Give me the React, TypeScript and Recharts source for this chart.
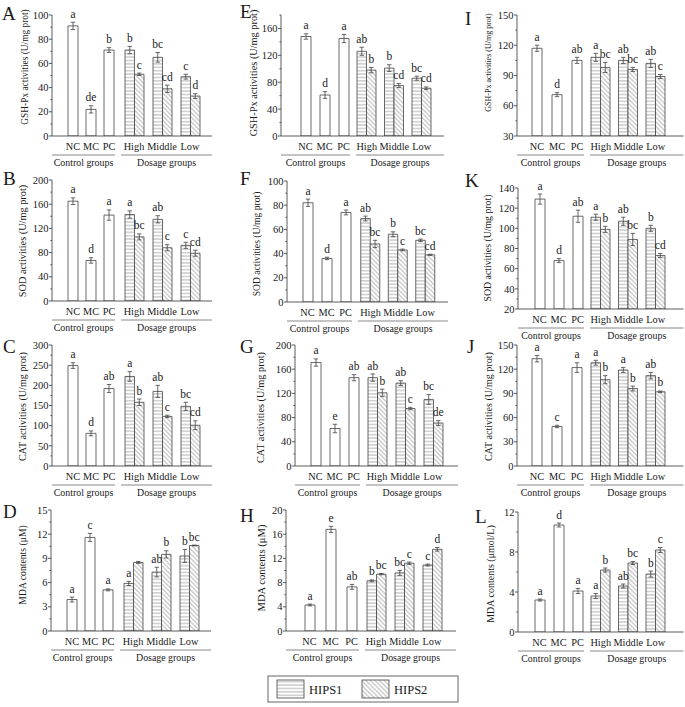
import { BarChart, Bar, XAxis, YAxis, ErrorBar, LabelList } from "recharts";

const FONT = '"Liberation Serif", "Times New Roman", Times, serif';
const INK = "#1a1a1a";
const LINE = "#333";

const controlGroups = ["NC", "MC", "PC"];
const dosageGroups = ["High", "Middle", "Low"];

// A - GSH-Px
const aCtrl = [91, 22, 71], aCtrlErr = [3, 3, 2], aCtrlSig = ["a", "de", "b"];
const aHips1 = [71, 65, 49], aHips1Err = [3, 4, 2], aHips1Sig = ["b", "bc", "c"];
const aHips2 = [51, 39, 33], aHips2Err = [1, 3, 2], aHips2Sig = ["c", "cd", "d"];
const aTicks = [0, 20, 40, 60, 80, 100];
// B - SOD
const bCtrl = [165, 67, 142], bCtrlErr = [5.5, 4.5, 8.5], bCtrlSig = ["a", "d", "a"];
const bHips1 = [143, 135, 92], bHips1Err = [6, 6, 5], bHips1Sig = ["a", "ab", "c"];
const bHips2 = [106, 88, 79], bHips2Err = [5, 5, 5], bHips2Sig = ["bc", "c", "cd"];
const bTicks = [0, 40, 80, 120, 160, 200];
// C - CAT
const cCtrl = [249, 81, 192], cCtrlErr = [7, 6, 10], cCtrlSig = ["a", "d", "ab"];
const cHips1 = [222, 185, 148], cHips1Err = [12, 15, 10], cHips1Sig = ["a", "ab", "bc"];
const cHips2 = [158, 123, 101], cHips2Err = [8, 3, 11], cHips2Sig = ["b", "c", "cd"];
const cTicks = [0, 50, 100, 150, 200, 250, 300];
// D - MDA
const dCtrl = [3.9, 11.6, 5.1], dCtrlErr = [0.3, 0.5, 0.12], dCtrlSig = ["a", "c", "a"];
const dHips1 = [5.9, 7.3, 9.3], dHips1Err = [0.25, 0.6, 0.8], dHips1Sig = ["a", "ab", "b"];
const dHips2 = [8.5, 9.5, 10.6], dHips2Err = [0.12, 0.45, 0.05], dHips2Sig = ["", "b", "bc"];
const dTicks = [0, 3, 6, 9, 12, 15];
// E - GSH-Px
const eCtrl = [148, 61, 145], eCtrlErr = [4, 5, 6], eCtrlSig = ["a", "d", "a"];
const eHips1 = [126, 101, 86], eHips1Err = [6, 5, 3], eHips1Sig = ["ab", "b", "bc"];
const eHips2 = [98, 75, 71], eHips2Err = [4, 3, 2], eHips2Sig = ["b", "cd", "cd"];
const eTicks = [0, 40, 80, 120, 160];
// F - SOD
const fCtrl = [82, 36, 74], fCtrlErr = [3, 1, 2], fCtrlSig = ["a", "d", "a"];
const fHips1 = [69, 56, 51], fHips1Err = [2, 2, 1], fHips1Sig = ["ab", "b", "bc"];
const fHips2 = [48, 43, 39], fHips2Err = [3, 0.7, 0.5], fHips2Sig = ["bc", "c", "cd"];
const fTicks = [0, 20, 40, 60, 80, 100];
// G - CAT
const gCtrl = [171, 62, 146], gCtrlErr = [6, 7, 5], gCtrlSig = ["a", "e", "ab"];
const gHips1 = [146, 137, 110], gHips1Err = [6, 4, 8], gHips1Sig = ["ab", "ab", "bc"];
const gHips2 = [121, 95, 71], gHips2Err = [6, 2, 4], gHips2Sig = ["b", "c", "de"];
const gTicks = [0, 40, 80, 120, 160, 200];
// H - MDA
const hCtrl = [4.3, 16.8, 7.3], hCtrlErr = [0.15, 0.5, 0.4], hCtrlSig = ["a", "e", "ab"];
const hHips1 = [8.3, 9.6, 10.9], hHips1Err = [0.15, 0.4, 0.15], hHips1Sig = ["b", "bc", "c"];
const hHips2 = [9.4, 11.2, 13.5], hHips2Err = [0.1, 0.2, 0.3], hHips2Sig = ["bc", "c", "d"];
const hTicks = [0, 4, 8, 12, 16, 20];
// I - GSH-Px
const iCtrl = [117, 71, 105], iCtrlErr = [3, 2, 3], iCtrlSig = ["a", "d", "ab"];
const iHips1 = [108, 105, 102], iHips1Err = [4, 3, 4], iHips1Sig = ["a", "ab", "ab"];
const iHips2 = [98, 96, 89], iHips2Err = [5, 2, 2], iHips2Sig = ["bc", "bc", "c"];
const iTicks = [30, 60, 90, 120, 150];
// J - CAT
const jCtrl = [133, 49, 122], jCtrlErr = [4, 1.5, 6], jCtrlSig = ["a", "c", "a"];
const jHips1 = [128, 119, 112], jHips1Err = [3, 3, 4], jHips1Sig = ["a", "a", "ab"];
const jHips2 = [107, 96, 92], jHips2Err = [5, 3, 1], jHips2Sig = ["b", "b", "b"];
const jTicks = [0, 30, 60, 90, 120, 150];
// K - SOD
const kCtrl = [129, 68, 112], kCtrlErr = [5, 2, 6], kCtrlSig = ["a", "d", "ab"];
const kHips1 = [111, 107, 100], kHips1Err = [3, 4, 3], kHips1Sig = ["a", "ab", "b"];
const kHips2 = [99, 89, 73], kHips2Err = [3, 6, 2], kHips2Sig = ["b", "bc", "cd"];
const kTicks = [20, 40, 60, 80, 100, 120, 140];
// L - MDA
const lCtrl = [3.2, 10.7, 4.1], lCtrlErr = [0.1, 0.2, 0.25], lCtrlSig = ["a", "d", "a"];
const lHips1 = [3.6, 4.6, 5.8], lHips1Err = [0.25, 0.2, 0.3], lHips1Sig = ["a", "ab", "b"];
const lHips2 = [6.2, 6.9, 8.2], lHips2Err = [0.2, 0.15, 0.25], lHips2Sig = ["b", "bc", "c"];
const lTicks = [0, 4, 8, 12];

const GSH = "GSH-Px activities (U/mg prot)";
const SOD = "SOD activities (U/mg prot)";
const CAT = "CAT activities (U/mg prot)";

const MT = 14;
const XH = 22;
const YW = 28;

// layout of each column of panels
const col1 = { ctrlPad: 12, ctrlSlot: 18, dosPad: 2, dosSlot: 28, rightPad: 8 };
const col3 = { ctrlPad: 10, ctrlSlot: 20, dosPad: 0, dosSlot: 27.5, rightPad: 14 };

function makePanel(id, yLabel, domain, ticks, ctrl, ctrlErr, ctrlSig, h1, h1Err, h1Sig, h2, h2Err, h2Sig, layout) {
  return {
    id, yLabel, domain, ticks, ...layout,
    ctrlData: controlGroups.map((name, i) => ({ name, v: ctrl[i], e: ctrlErr[i], s: ctrlSig[i] })),
    dosData: dosageGroups.map((name, i) => ({
      name, h1: h1[i], e1: h1Err[i], s1: h1Sig[i], h2: h2[i], e2: h2Err[i], s2: h2Sig[i],
    })),
  };
}

const panels = [
  makePanel("A", GSH, [0, 100], aTicks, aCtrl, aCtrlErr, aCtrlSig, aHips1, aHips1Err, aHips1Sig, aHips2, aHips2Err, aHips2Sig,
    { ...col1, axisX: 52, top: 15, letter: [2, 20], labOff: 27, labDy: -8.5, labSize: 9.4 }),
  makePanel("B", SOD, [0, 200], bTicks, bCtrl, bCtrlErr, bCtrlSig, bHips1, bHips1Err, bHips1Sig, bHips2, bHips2Err, bHips2Sig,
    { ...col1, axisX: 52, top: 180, letter: [3, 185], labOff: 30, labDy: 0.5, labSize: 10.3 }),
  makePanel("C", CAT, [0, 300], cTicks, cCtrl, cCtrlErr, cCtrlSig, cHips1, cHips1Err, cHips1Sig, cHips2, cHips2Err, cHips2Sig,
    { ...col1, axisX: 52, top: 345, letter: [3, 353], labOff: 30, labDy: 1, labSize: 10.1 }),
  makePanel("D", "MDA contents (μM)", [0, 15], dTicks, dCtrl, dCtrlErr, dCtrlSig, dHips1, dHips1Err, dHips1Sig, dHips2, dHips2Err, dHips2Sig,
    { ...col1, axisX: 51, top: 510, letter: [3, 518], labOff: 29, labDy: -5.5, labSize: 9.7 }),
  makePanel("E", GSH, [0, 180], eTicks, eCtrl, eCtrlErr, eCtrlSig, eHips1, eHips1Err, eHips1Sig, eHips2, eHips2Err, eHips2Sig,
    { ctrlPad: 15, ctrlSlot: 19, dosPad: 0, dosSlot: 27.5, rightPad: 8.5, axisX: 281, top: 15, letter: [240, 18], labOff: 28, labDy: -2.5, labSize: 10.3 }),
  makePanel("F", SOD, [0, 100], fTicks, fCtrl, fCtrlErr, fCtrlSig, fHips1, fHips1Err, fHips1Sig, fHips2, fHips2Err, fHips2Sig,
    { ctrlPad: 11, ctrlSlot: 19, dosPad: 1.75, dosSlot: 27.5, rightPad: 8.75, axisX: 287, top: 181, letter: [240, 185], labOff: 31, labDy: 2.5, labSize: 9.6 }),
  makePanel("G", CAT, [0, 200], gTicks, gCtrl, gCtrlErr, gCtrlSig, gHips1, gHips1Err, gHips1Sig, gHips2, gHips2Err, gHips2Sig,
    { ctrlPad: 11, ctrlSlot: 19, dosPad: 0, dosSlot: 28, rightPad: 11, axisX: 295, top: 345, letter: [240, 353], labOff: 35, labDy: 2, labSize: 10.3 }),
  makePanel("H", "MDA contents (μM)", [0, 20], hTicks, hCtrl, hCtrlErr, hCtrlSig, hHips1, hHips1Err, hHips1Sig, hHips2, hHips2Err, hHips2Sig,
    { ctrlPad: 13, ctrlSlot: 21, dosPad: 0, dosSlot: 28, rightPad: 10, axisX: 286, top: 510, letter: [240, 522], labOff: 25, labDy: -2.5, labSize: 10.6 }),
  makePanel("I", GSH, [30, 150], iTicks, iCtrl, iCtrlErr, iCtrlSig, iHips1, iHips1Err, iHips1Sig, iHips2, iHips2Err, iHips2Sig,
    { ...col3, axisX: 517, top: 15, letter: [465, 25], labOff: 29, labDy: -13, labSize: 8 }),
  makePanel("J", CAT, [0, 150], jTicks, jCtrl, jCtrlErr, jCtrlSig, jHips1, jHips1Err, jHips1Sig, jHips2, jHips2Err, jHips2Sig,
    { ...col3, axisX: 517, top: 345, letter: [467, 353], labOff: 29, labDy: 1, labSize: 10.1 }),
  makePanel("K", SOD, [20, 140], kTicks, kCtrl, kCtrlErr, kCtrlSig, kHips1, kHips1Err, kHips1Sig, kHips2, kHips2Err, kHips2Sig,
    { ...col3, ctrlPad: 12, ctrlSlot: 19, axisX: 518, top: 188, letter: [465, 187], labOff: 31, labDy: -0.5, labSize: 9.8 }),
  makePanel("L", "MDA contents (μmol/L)", [0, 12], lTicks, lCtrl, lCtrlErr, lCtrlSig, lHips1, lHips1Err, lHips1Sig, lHips2, lHips2Err, lHips2Sig,
    { ...col3, ctrlPad: 12, ctrlSlot: 19, axisX: 518, top: 512, plotH: 120, letter: [475, 523], labOff: 28, labDy: 2, labSize: 10 }),
];

function sigLabel(rows, errKey, sigKey, ppu) {
  return (props) => {
    const row = rows[props.index];
    if (!row || !row[sigKey]) return null;
    const vb = props.viewBox || {};
    const x = props.x ?? vb.x;
    const y = props.y ?? vb.y;
    const w = props.width ?? vb.width;
    return (
      <text x={x + w / 2} y={y - row[errKey] * ppu - 4.5} textAnchor="middle" fontSize={11.5} fontFamily={FONT} fill={INK}>
        {row[sigKey]}
      </text>
    );
  };
}

function yTick(majors) {
  return (props) => {
    const { x, y, payload } = props;
    const major = majors.includes(payload.value);
    return (
      <g>
        <line x1={x - (major ? 3 : 1.6)} x2={x} y1={y} y2={y} stroke={LINE} strokeWidth={0.8} />
        {major && (
          <text x={x - 3.5} y={y} dy="0.35em" textAnchor="end" fontSize={10.5} fontFamily={FONT} fill={INK}>
            {payload.value}
          </text>
        )}
      </g>
    );
  };
}

const xTickStyle = { fontSize: 10.3, fontFamily: FONT, fill: INK };
const axisStyle = { stroke: LINE, strokeWidth: 0.8 };

function Panel({ p }) {
  const plotH = p.plotH ?? 121;
  const ctrlW = p.ctrlPad + 3 * p.ctrlSlot;
  const dosW = p.dosPad + 3 * p.dosSlot + p.rightPad;
  const ppu = plotH / (p.domain[1] - p.domain[0]);
  const chartH = MT + plotH + XH;
  const step = p.ticks[1] - p.ticks[0];
  const minors = p.ticks.map((t) => t + step / 2).filter((t) => t <= p.domain[1]);
  const allTicks = [...p.ticks, ...minors].sort((a, b) => a - b);

  return (
    <>
      <div style={{ position: "absolute", left: p.axisX - YW, top: p.top - MT }}>
        <BarChart width={YW + ctrlW} height={chartH} data={p.ctrlData} margin={{ top: MT, right: 0, bottom: 0, left: 0 }}>
          <XAxis dataKey="name" padding={{ left: p.ctrlPad, right: 0 }} height={XH} interval={0}
            tickLine={false} tickSize={0} tickMargin={7} tick={xTickStyle} axisLine={axisStyle} />
          <YAxis width={YW} domain={p.domain} ticks={allTicks} interval={0} allowDataOverflow
            tickLine={false} tickSize={0} tickMargin={0} tick={yTick(p.ticks)} axisLine={axisStyle} />
          <Bar dataKey="v" barSize={10} fill="#fff" stroke="#444" strokeWidth={0.8} isAnimationActive={false}>
            <ErrorBar dataKey="e" width={2.2} stroke="#444" strokeWidth={0.8} isAnimationActive={false} />
            <LabelList dataKey="s" content={sigLabel(p.ctrlData, "e", "s", ppu)} />
          </Bar>
        </BarChart>
      </div>
      <div style={{ position: "absolute", left: p.axisX + ctrlW, top: p.top - MT }}>
        <BarChart width={dosW} height={chartH} data={p.dosData} barGap={0} margin={{ top: MT, right: 0, bottom: 0, left: 0 }}>
          <XAxis dataKey="name" padding={{ left: p.dosPad, right: p.rightPad }} height={XH} interval={0}
            tickLine={false} tickSize={0} tickMargin={7} tick={xTickStyle} axisLine={axisStyle} />
          <YAxis hide domain={p.domain} allowDataOverflow />
          <Bar dataKey="h1" barSize={9.5} fill="url(#hipsH)" stroke="#444" strokeWidth={0.8} isAnimationActive={false}>
            <ErrorBar dataKey="e1" width={2.2} stroke="#444" strokeWidth={0.8} isAnimationActive={false} />
            <LabelList dataKey="s1" content={sigLabel(p.dosData, "e1", "s1", ppu)} />
          </Bar>
          <Bar dataKey="h2" barSize={9.5} fill="url(#hipsD)" stroke="#444" strokeWidth={0.8} isAnimationActive={false}>
            <ErrorBar dataKey="e2" width={2.2} stroke="#444" strokeWidth={0.8} isAnimationActive={false} />
            <LabelList dataKey="s2" content={sigLabel(p.dosData, "e2", "s2", ppu)} />
          </Bar>
        </BarChart>
      </div>
    </>
  );
}

function Decorations({ p }) {
  const plotH = p.plotH ?? 121;
  const ctrlEnd = p.axisX + p.ctrlPad + 3 * p.ctrlSlot;
  const right = ctrlEnd + p.dosPad + 3 * p.dosSlot + p.rightPad;
  const bottom = p.top + plotH;
  const uy = bottom + 19;
  const cx = p.axisX - p.labOff;
  const cy = p.top + plotH / 2 + p.labDy;
  return (
    <g fontFamily={FONT} fill={INK}>
      <text x={p.letter[0]} y={p.letter[1]} fontSize={19}>{p.id}</text>
      <text transform={`translate(${cx},${cy}) rotate(-90)`} textAnchor="middle" dominantBaseline="central" fontSize={p.labSize}>
        {p.yLabel}
      </text>
      <line x1={p.axisX} x2={ctrlEnd - 3} y1={uy} y2={uy} stroke="#888" strokeWidth={1} />
      <line x1={ctrlEnd + 3} x2={right} y1={uy} y2={uy} stroke="#888" strokeWidth={1} />
      <text x={(p.axisX + ctrlEnd - 3) / 2} y={bottom + 30} textAnchor="middle" fontSize={9.9}>Control groups</text>
      <text x={(ctrlEnd + 3 + right) / 2} y={bottom + 30} textAnchor="middle" fontSize={9.9}>Dosage groups</text>
    </g>
  );
}

export default function App() {
  return (
    <div style={{ position: "absolute", left: 0, top: 0, width: 685, height: 707, background: "#fff", overflow: "hidden" }}>
      <svg width={685} height={707} style={{ position: "absolute", left: 0, top: 0 }}>
        <defs>
          <pattern id="hipsH" patternUnits="userSpaceOnUse" width={6} height={3.4}>
            <rect width={6} height={3.4} fill="#fff" />
            <line x1={0} x2={6} y1={1.7} y2={1.7} stroke="#8a8a8a" strokeWidth={0.7} />
          </pattern>
          <pattern id="hipsD" patternUnits="userSpaceOnUse" width={3.2} height={6} patternTransform="rotate(-45)">
            <rect width={3.2} height={6} fill="#fff" />
            <line x1={1.6} x2={1.6} y1={0} y2={6} stroke="#8a8a8a" strokeWidth={0.7} />
          </pattern>
        </defs>
        {panels.map((p) => (
          <Decorations key={p.id} p={p} />
        ))}
        <g fontFamily={FONT} fill={INK}>
          <rect x={268} y={676} width={190} height={26} fill="none" stroke="#666" strokeWidth={1} />
          <rect x={277} y={680} width={27} height={18} fill="url(#hipsH)" stroke="#444" strokeWidth={0.8} />
          <text x={309} y={694} fontSize={12.5}>HIPS1</text>
          <rect x={362} y={680} width={27} height={18} fill="url(#hipsD)" stroke="#444" strokeWidth={0.8} />
          <text x={394} y={694} fontSize={12.5}>HIPS2</text>
        </g>
      </svg>
      {panels.map((p) => (
        <Panel key={p.id} p={p} />
      ))}
    </div>
  );
}
